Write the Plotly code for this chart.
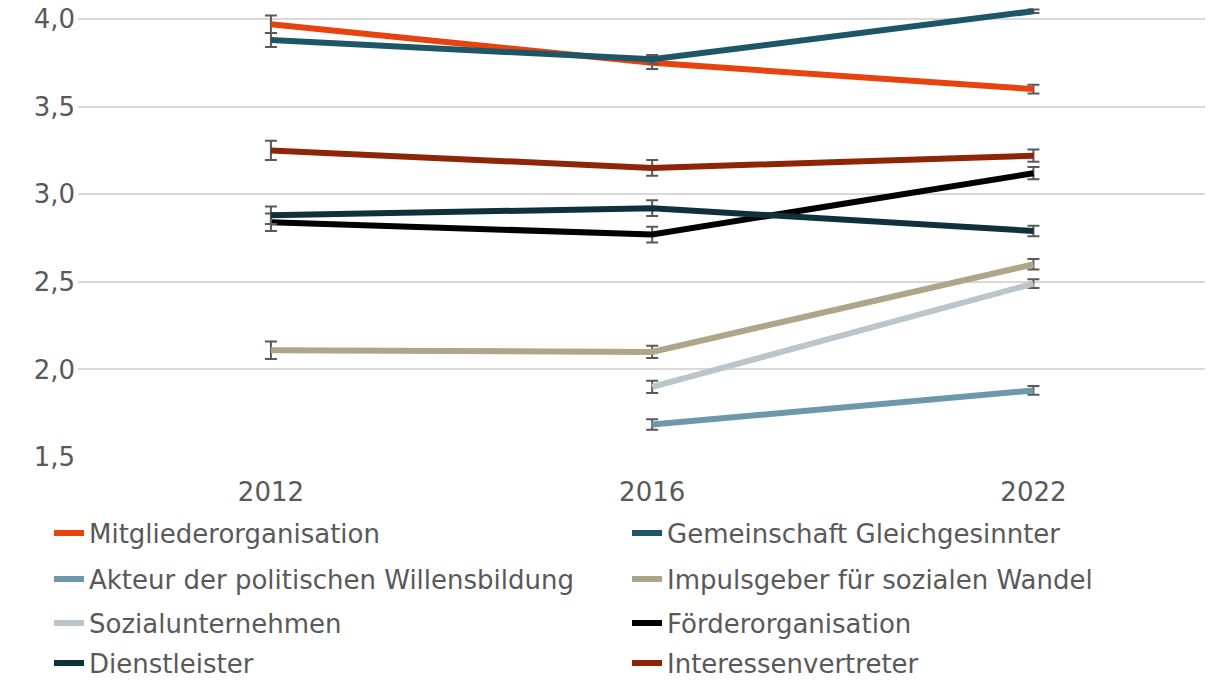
import plotly.graph_objects as go

years = ["2012", "2016", "2022"]

series_names = [
    "Mitgliederorganisation",
    "Gemeinschaft Gleichgesinnter",
    "Akteur der politischen Willensbildung",
    "Impulsgeber für sozialen Wandel",
    "Sozialunternehmen",
    "Förderorganisation",
    "Dienstleister",
    "Interessenvertreter",
]

mitglieder = [3.97, 3.75, 3.60]
gemeinschaft = [3.88, 3.77, 4.045]
akteur = [None, 1.685, 1.88]
impulsgeber = [2.11, 2.10, 2.60]
sozial = [None, 1.90, 2.49]
foerder = [2.84, 2.77, 3.12]
dienstleister = [2.88, 2.92, 2.79]
interessen = [3.25, 3.15, 3.22]

err_mitglieder = [0.05, 0.035, 0.025]
err_gemeinschaft = [0.04, 0.025, 0.01]
err_akteur = [0, 0.03, 0.025]
err_impulsgeber = [0.05, 0.035, 0.03]
err_sozial = [0, 0.035, 0.025]
err_foerder = [0.05, 0.045, 0.035]
err_dienstleister = [0.05, 0.045, 0.03]
err_interessen = [0.055, 0.045, 0.035]

values = [mitglieder, gemeinschaft, akteur, impulsgeber, sozial, foerder, dienstleister, interessen]
errors = [err_mitglieder, err_gemeinschaft, err_akteur, err_impulsgeber, err_sozial,
          err_foerder, err_dienstleister, err_interessen]
colors = ["#E8420E", "#1C5667", "#6B99AA", "#AEA688", "#BCC5C9", "#000000", "#0E313C", "#8E2507"]

FONT = "DejaVu Sans"
FS = 26
W, H = 1209, 680

fig = go.Figure()
legend_layout = {}
row_y = [533, 579, 623, 663]
col_x = [49, 627]
for i, (name, vals, errs, col) in enumerate(zip(series_names, values, errors, colors)):
    lid = "legend" if i == 0 else f"legend{i + 1}"
    fig.add_trace(go.Scatter(
        x=years, y=vals, name=name, mode="lines",
        line=dict(color=col, width=6),
        error_y=dict(type="data", array=errs, color="#595959", thickness=2, width=6, visible=True),
        legend=lid, showlegend=True,
    ))
    legend_layout[lid] = dict(
        orientation="h",
        xref="container", x=col_x[i % 2] / W, xanchor="left",
        yref="container", y=1 - row_y[i // 2] / H, yanchor="middle",
        font=dict(family=FONT, size=FS, color="#595959"),
        bgcolor="rgba(0,0,0,0)", itemwidth=30,
    )

fig.update_layout(
    width=W, height=H,
    showlegend=True,
    margin=dict(l=78, r=4, t=8, b=223, autoexpand=False),
    paper_bgcolor="white", plot_bgcolor="white",
    separators=",.",
    font=dict(family=FONT, size=FS, color="#595959"),
    xaxis=dict(
        type="category", range=[-0.506, 2.45], automargin=False,
        showgrid=False, zeroline=False, showline=False,
        ticks="", ticklabelstandoff=17,
        tickfont=dict(family=FONT, size=FS, color="#595959"),
    ),
    yaxis=dict(
        range=[1.5, 4.063], tick0=1.5, dtick=0.5, tickformat=".1f", automargin=False,
        showgrid=True, gridcolor="#D9D9D9", gridwidth=2,
        zeroline=False, showline=False, ticks="", ticklabelstandoff=2,
        tickfont=dict(family=FONT, size=FS, color="#595959"),
    ),
    **legend_layout,
)

fig.write_html(
    "out.html",
    config={"displayModeBar": False},
    post_script="document.body.style.margin='0';document.body.style.overflow='hidden';",
)
